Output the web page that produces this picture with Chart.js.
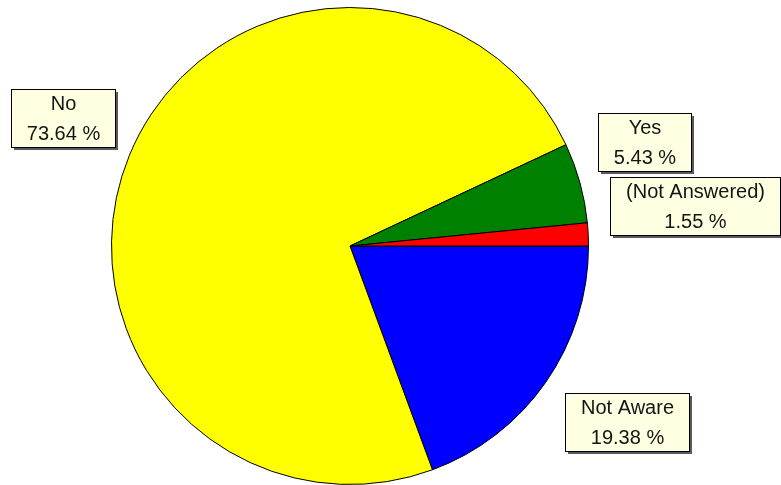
<!DOCTYPE html>
<html>
<head>
<meta charset="utf-8">
<script src="https://cdn.jsdelivr.net/npm/chart.js@4/dist/chart.umd.min.js"></script>
<style>
  html, body { margin: 0; padding: 0; background: #fff; }
  #wrap { width: 781px; height: 485px; position: relative; }
</style>
</head>
<body>
<div id="wrap"><canvas id="pie"></canvas></div>
<script>
// slices run clockwise from 3 o'clock
const categories = ['Not Aware', 'No', 'Yes', '(Not Answered)'];
const percents = [19.38, 73.64, 5.43, 1.55];
const sliceColors = ['#0000ff', '#ffff00', '#008000', '#ff0000'];

// nudges for each callout box, relative to its spot on the slice's mid-angle
const LABEL_NUDGE = [[19, -4], [4, -8], [-9, -21], [31, -25]];
const LABEL_DIST = 1.32;

const calloutPlugin = {
  id: 'callouts',
  afterDatasetsDraw(chart) {
    const ctx = chart.ctx;
    const meta = chart.getDatasetMeta(0);
    ctx.save();
    ctx.font = '20px "Liberation Sans", Arial, sans-serif';
    ctx.textAlign = 'center';
    ctx.textBaseline = 'middle';
    meta.data.forEach((arc, i) => {
      const { x, y, startAngle, endAngle, outerRadius } = arc.getProps(['x', 'y', 'startAngle', 'endAngle', 'outerRadius'], true);
      const mid = (startAngle + endAngle) / 2;
      const cx = x + Math.cos(mid) * outerRadius * LABEL_DIST + LABEL_NUDGE[i][0];
      const cy = y + Math.sin(mid) * outerRadius * LABEL_DIST + LABEL_NUDGE[i][1];
      const line1 = categories[i];
      const line2 = percents[i].toFixed(2) + ' %';
      const w = Math.round(Math.max(ctx.measureText(line1).width, ctx.measureText(line2).width) + 31);
      const h = 58;
      const left = Math.round(cx - w / 2) + 0.5;
      const top = Math.round(cy - h / 2) + 0.5;
      // drop shadow
      ctx.fillStyle = '#5a5a5a';
      ctx.fillRect(left + 2.5, top + 2.5, w, h);
      ctx.fillStyle = '#ffffe1';
      ctx.fillRect(left, top, w, h);
      ctx.strokeStyle = '#000';
      ctx.lineWidth = 1;
      ctx.strokeRect(left, top, w, h);
      ctx.fillStyle = '#141414';
      ctx.fillText(line1, left + w / 2, top + 15);
      ctx.fillText(line2, left + w / 2, top + 45);
    });
    ctx.restore();
  }
};

new Chart(document.getElementById('pie'), {
  type: 'pie',
  data: {
    labels: categories,
    datasets: [{
      data: percents,
      backgroundColor: sliceColors,
      borderColor: '#000',
      borderWidth: 1
    }]
  },
  options: {
    responsive: true,
    maintainAspectRatio: false,
    animation: false,
    rotation: 90,
    layout: { padding: { left: 0, right: 81, top: 7, bottom: 0 } },
    plugins: {
      legend: { display: false },
      tooltip: { enabled: false }
    }
  },
  plugins: [calloutPlugin]
});
</script>
</body>
</html>
